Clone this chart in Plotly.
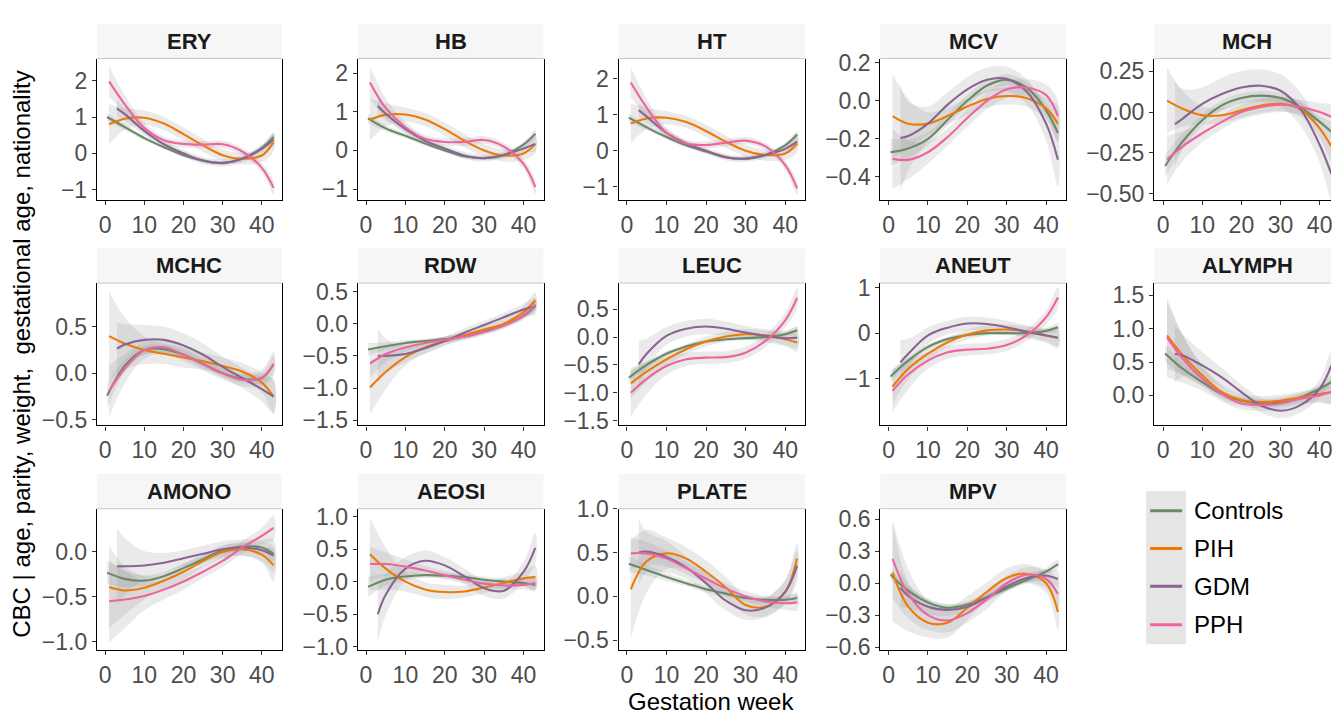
import plotly.graph_objects as go

# ---------------- data ----------------
PANELS = ["ERY", "HB", "HT", "MCV", "MCH",
          "MCHC", "RDW", "LEUC", "ANEUT", "ALYMPH",
          "AMONO", "AEOSI", "PLATE", "MPV"]
GROUPS = ["Controls", "PIH", "GDM", "PPH"]
GROUP_START = {"Controls": 0.5, "PIH": 1, "GDM": 3, "PPH": 1}
WEEKS = [5, 10, 15, 20, 25, 30, 35, 40, 43]
X_TICKS = [0, 10, 20, 30, 40]
X_TICK_LABELS = ["0", "10", "20", "30", "40"]

# fitted smooth at [start] + WEEKS
ERY_FIT = {
    "Controls": [1.0, 0.72, 0.42, 0.17, -0.05, -0.2, -0.27, -0.15, 0.15, 0.45],
    "PIH": [0.8, 0.95, 0.98, 0.82, 0.53, 0.22, -0.05, -0.15, -0.06, 0.31],
    "GDM": [1.24, 1.08, 0.62, 0.25, 0.0, -0.2, -0.26, -0.15, 0.12, 0.38],
    "PPH": [1.98, 1.35, 0.7, 0.36, 0.26, 0.24, 0.25, 0.05, -0.4, -0.95],
}
HB_FIT = {
    "Controls": [0.83, 0.57, 0.38, 0.18, 0.0, -0.15, -0.2, -0.12, 0.15, 0.43],
    "PIH": [0.8, 0.92, 0.93, 0.8, 0.55, 0.25, 0.0, -0.13, -0.08, 0.17],
    "GDM": [1.15, 0.95, 0.55, 0.25, 0.05, -0.13, -0.2, -0.12, 0.05, 0.17],
    "PPH": [1.76, 1.1, 0.6, 0.3, 0.22, 0.22, 0.27, 0.1, -0.35, -0.95],
}
HT_FIT = {
    "Controls": [0.92, 0.65, 0.38, 0.15, -0.02, -0.18, -0.22, -0.12, 0.15, 0.45],
    "PIH": [0.76, 0.9, 0.92, 0.8, 0.55, 0.25, 0.0, -0.12, -0.08, 0.2],
    "GDM": [1.13, 0.95, 0.5, 0.2, 0.0, -0.18, -0.22, -0.12, 0.05, 0.25],
    "PPH": [1.9, 1.2, 0.5, 0.2, 0.16, 0.22, 0.28, 0.12, -0.4, -1.05],
}
MCV_FIT = {
    "Controls": [-0.27, -0.25, -0.2, -0.1, 0.0, 0.08, 0.11, 0.07, -0.05, -0.17],
    "PIH": [-0.08, -0.12, -0.12, -0.08, -0.03, 0.01, 0.025, 0.015, -0.04, -0.12],
    "GDM": [-0.195, -0.185, -0.12, -0.02, 0.06, 0.11, 0.115, 0.05, -0.12, -0.31],
    "PPH": [-0.305, -0.31, -0.27, -0.19, -0.09, 0.0, 0.06, 0.07, 0.03, -0.08],
}
MCH_FIT = {
    "Controls": [-0.33, -0.18, -0.05, 0.04, 0.085, 0.1, 0.085, 0.03, -0.06, -0.12],
    "PIH": [0.07, 0.02, -0.02, -0.02, 0.01, 0.04, 0.05, 0.02, -0.1, -0.21],
    "GDM": [-0.075, -0.04, 0.05, 0.11, 0.15, 0.16, 0.13, 0.02, -0.2, -0.38],
    "PPH": [-0.29, -0.21, -0.13, -0.06, 0.0, 0.03, 0.045, 0.03, 0.0, -0.03],
}
MCHC_FIT = {
    "Controls": [-0.24, 0.08, 0.25, 0.26, 0.2, 0.1, 0.0, -0.06, -0.05, 0.1],
    "PIH": [0.4, 0.32, 0.25, 0.21, 0.17, 0.13, 0.08, 0.02, -0.1, -0.25],
    "GDM": [0.265, 0.31, 0.36, 0.36, 0.3, 0.2, 0.07, -0.05, -0.17, -0.25],
    "PPH": [-0.19, 0.05, 0.25, 0.28, 0.2, 0.1, 0.0, -0.07, -0.05, 0.1],
}
RDW_FIT = {
    "Controls": [-0.4, -0.35, -0.3, -0.27, -0.24, -0.2, -0.12, -0.02, 0.12, 0.28],
    "PIH": [-0.99, -0.75, -0.52, -0.37, -0.27, -0.18, -0.09, 0.0, 0.18, 0.36],
    "GDM": [-0.5, -0.5, -0.47, -0.38, -0.27, -0.14, -0.02, 0.1, 0.22, 0.27],
    "PPH": [-0.62, -0.47, -0.37, -0.3, -0.25, -0.2, -0.13, -0.03, 0.13, 0.3],
}
LEUC_FIT = {
    "Controls": [-0.73, -0.5, -0.3, -0.17, -0.08, -0.04, -0.02, 0.0, 0.05, 0.12],
    "PIH": [-0.83, -0.62, -0.4, -0.22, -0.08, 0.01, 0.05, 0.03, -0.04, -0.1],
    "GDM": [-0.49, -0.3, 0.02, 0.15, 0.19, 0.15, 0.08, 0.02, -0.02, -0.01],
    "PPH": [-1.0, -0.75, -0.52, -0.4, -0.37, -0.36, -0.28, -0.07, 0.3, 0.7],
}
ANEUT_FIT = {
    "Controls": [-0.95, -0.6, -0.3, -0.13, -0.04, 0.0, 0.0, 0.0, 0.05, 0.13],
    "PIH": [-1.17, -0.78, -0.45, -0.2, -0.03, 0.06, 0.08, 0.04, -0.05, -0.1],
    "GDM": [-0.64, -0.45, -0.05, 0.12, 0.21, 0.2, 0.13, 0.03, -0.05, -0.1],
    "PPH": [-1.26, -0.9, -0.6, -0.42, -0.36, -0.34, -0.26, -0.05, 0.35, 0.78],
}
ALYMPH_FIT = {
    "Controls": [0.63, 0.4, 0.2, 0.02, -0.08, -0.12, -0.1, -0.03, 0.1, 0.2],
    "PIH": [0.9, 0.6, 0.3, 0.05, -0.07, -0.1, -0.08, -0.03, 0.02, 0.05],
    "GDM": [0.62, 0.6, 0.45, 0.27, 0.05, -0.15, -0.23, -0.15, 0.1, 0.45],
    "PPH": [0.87, 0.55, 0.25, 0.02, -0.12, -0.14, -0.12, -0.05, 0.0, 0.05],
}
AMONO_FIT = {
    "Controls": [-0.23, -0.3, -0.32, -0.27, -0.18, -0.08, 0.02, 0.06, 0.05, -0.02],
    "PIH": [-0.39, -0.43, -0.4, -0.32, -0.22, -0.1, 0.0, 0.03, -0.03, -0.15],
    "GDM": [-0.16, -0.16, -0.15, -0.12, -0.07, -0.02, 0.03, 0.05, 0.02, -0.04],
    "PPH": [-0.55, -0.53, -0.49, -0.42, -0.33, -0.22, -0.1, 0.05, 0.18, 0.27],
}
AEOSI_FIT = {
    "Controls": [-0.08, 0.03, 0.08, 0.1, 0.09, 0.07, 0.03, 0.0, -0.02, -0.05],
    "PIH": [0.42, 0.2, 0.0, -0.12, -0.16, -0.15, -0.09, -0.02, 0.05, 0.07],
    "GDM": [-0.5, -0.2, 0.2, 0.32, 0.25, 0.08, -0.1, -0.14, 0.15, 0.52],
    "PPH": [0.27, 0.27, 0.23, 0.17, 0.1, 0.03, -0.03, -0.06, -0.05, -0.02],
}
PLATE_FIT = {
    "Controls": [0.37, 0.3, 0.22, 0.15, 0.08, 0.03, -0.02, -0.04, -0.04, -0.02],
    "PIH": [0.08, 0.4, 0.49, 0.43, 0.28, 0.1, -0.1, -0.12, 0.05, 0.43],
    "GDM": [0.5, 0.51, 0.45, 0.33, 0.15, -0.05, -0.16, -0.13, 0.05, 0.35],
    "PPH": [0.49, 0.49, 0.43, 0.32, 0.2, 0.09, 0.0, -0.06, -0.08, -0.07],
}
MPV_FIT = {
    "Controls": [0.08, -0.07, -0.18, -0.23, -0.2, -0.13, -0.05, 0.03, 0.11, 0.18],
    "PIH": [0.1, -0.22, -0.37, -0.37, -0.23, -0.08, 0.05, 0.09, 0.0, -0.27],
    "GDM": [-0.04, -0.12, -0.22, -0.25, -0.22, -0.13, -0.03, 0.05, 0.07, 0.04],
    "PPH": [0.23, -0.1, -0.3, -0.35, -0.28, -0.15, 0.0, 0.08, 0.04, -0.1],
}

# confidence band half-widths at the same weeks
ERY_SE = {
    "Controls": [0.12, 0.08, 0.06, 0.05, 0.05, 0.05, 0.05, 0.05, 0.07, 0.1],
    "PIH": [0.55, 0.3, 0.2, 0.18, 0.18, 0.18, 0.16, 0.16, 0.18, 0.25],
    "GDM": [0.25, 0.18, 0.12, 0.1, 0.1, 0.1, 0.1, 0.1, 0.12, 0.17],
    "PPH": [0.42, 0.25, 0.14, 0.1, 0.1, 0.1, 0.1, 0.1, 0.13, 0.17],
}
HB_SE = {
    "Controls": [0.12, 0.08, 0.06, 0.05, 0.05, 0.05, 0.05, 0.05, 0.07, 0.1],
    "PIH": [0.55, 0.3, 0.18, 0.17, 0.17, 0.17, 0.16, 0.16, 0.17, 0.24],
    "GDM": [0.22, 0.17, 0.11, 0.09, 0.09, 0.09, 0.09, 0.09, 0.11, 0.17],
    "PPH": [0.42, 0.25, 0.14, 0.1, 0.1, 0.1, 0.1, 0.1, 0.13, 0.17],
}
HT_SE = {
    "Controls": [0.12, 0.08, 0.06, 0.05, 0.05, 0.05, 0.05, 0.05, 0.07, 0.1],
    "PIH": [0.55, 0.3, 0.18, 0.17, 0.17, 0.17, 0.16, 0.16, 0.17, 0.24],
    "GDM": [0.22, 0.17, 0.11, 0.09, 0.09, 0.09, 0.09, 0.09, 0.11, 0.17],
    "PPH": [0.42, 0.25, 0.14, 0.1, 0.1, 0.1, 0.1, 0.1, 0.13, 0.17],
}
MCV_SE = {
    "Controls": [0.07, 0.05, 0.035, 0.03, 0.03, 0.03, 0.03, 0.03, 0.035, 0.05],
    "PIH": [0.22, 0.13, 0.06, 0.045, 0.045, 0.045, 0.045, 0.045, 0.055, 0.09],
    "GDM": [0.28, 0.18, 0.09, 0.065, 0.065, 0.065, 0.065, 0.065, 0.09, 0.14],
    "PPH": [0.16, 0.1, 0.06, 0.045, 0.045, 0.045, 0.045, 0.045, 0.055, 0.08],
}
MCH_SE = {
    "Controls": [0.07, 0.05, 0.035, 0.03, 0.03, 0.03, 0.03, 0.03, 0.035, 0.05],
    "PIH": [0.2, 0.11, 0.055, 0.045, 0.045, 0.045, 0.045, 0.045, 0.055, 0.09],
    "GDM": [0.26, 0.18, 0.1, 0.1, 0.1, 0.1, 0.1, 0.1, 0.11, 0.16],
    "PPH": [0.15, 0.09, 0.055, 0.045, 0.045, 0.045, 0.045, 0.045, 0.055, 0.07],
}
MCHC_SE = {
    "Controls": [0.13, 0.07, 0.045, 0.045, 0.045, 0.045, 0.045, 0.045, 0.055, 0.09],
    "PIH": [0.48, 0.28, 0.15, 0.11, 0.11, 0.09, 0.09, 0.09, 0.11, 0.18],
    "GDM": [0.28, 0.22, 0.16, 0.14, 0.13, 0.12, 0.11, 0.11, 0.13, 0.18],
    "PPH": [0.28, 0.16, 0.09, 0.07, 0.07, 0.07, 0.07, 0.07, 0.09, 0.13],
}
RDW_SE = {
    "Controls": [0.1, 0.06, 0.045, 0.035, 0.035, 0.035, 0.035, 0.035, 0.045, 0.06],
    "PIH": [0.42, 0.27, 0.13, 0.09, 0.07, 0.07, 0.07, 0.07, 0.09, 0.13],
    "GDM": [0.42, 0.27, 0.13, 0.09, 0.07, 0.07, 0.07, 0.07, 0.09, 0.13],
    "PPH": [0.22, 0.13, 0.07, 0.05, 0.05, 0.05, 0.05, 0.05, 0.07, 0.1],
}
LEUC_SE = {
    "Controls": [0.09, 0.06, 0.045, 0.035, 0.035, 0.035, 0.035, 0.035, 0.045, 0.07],
    "PIH": [0.28, 0.18, 0.11, 0.09, 0.09, 0.09, 0.09, 0.09, 0.11, 0.16],
    "GDM": [0.42, 0.27, 0.16, 0.14, 0.14, 0.13, 0.12, 0.12, 0.14, 0.18],
    "PPH": [0.42, 0.27, 0.16, 0.12, 0.11, 0.11, 0.11, 0.11, 0.13, 0.18],
}
ANEUT_SE = {
    "Controls": [0.11, 0.07, 0.055, 0.045, 0.045, 0.045, 0.045, 0.045, 0.055, 0.09],
    "PIH": [0.37, 0.23, 0.14, 0.11, 0.11, 0.11, 0.11, 0.11, 0.13, 0.18],
    "GDM": [0.5, 0.32, 0.18, 0.15, 0.15, 0.14, 0.14, 0.14, 0.16, 0.23],
    "PPH": [0.47, 0.32, 0.18, 0.14, 0.13, 0.13, 0.13, 0.13, 0.15, 0.23],
}
ALYMPH_SE = {
    "Controls": [0.13, 0.09, 0.06, 0.05, 0.05, 0.05, 0.05, 0.05, 0.06, 0.09],
    "PIH": [0.5, 0.3, 0.16, 0.11, 0.09, 0.09, 0.09, 0.09, 0.11, 0.16],
    "GDM": [0.42, 0.32, 0.2, 0.14, 0.11, 0.11, 0.11, 0.11, 0.14, 0.22],
    "PPH": [0.6, 0.36, 0.18, 0.11, 0.09, 0.09, 0.09, 0.09, 0.11, 0.18],
}
AMONO_SE = {
    "Controls": [0.13, 0.09, 0.06, 0.05, 0.05, 0.05, 0.05, 0.05, 0.06, 0.09],
    "PIH": [0.46, 0.27, 0.13, 0.09, 0.09, 0.07, 0.07, 0.07, 0.09, 0.18],
    "GDM": [0.42, 0.32, 0.16, 0.11, 0.09, 0.09, 0.09, 0.09, 0.12, 0.18],
    "PPH": [0.46, 0.32, 0.16, 0.11, 0.09, 0.07, 0.07, 0.07, 0.09, 0.13],
}
AEOSI_SE = {
    "Controls": [0.16, 0.09, 0.06, 0.045, 0.045, 0.045, 0.045, 0.045, 0.055, 0.09],
    "PIH": [0.56, 0.32, 0.15, 0.11, 0.11, 0.09, 0.09, 0.09, 0.11, 0.18],
    "GDM": [0.42, 0.32, 0.18, 0.16, 0.13, 0.12, 0.12, 0.12, 0.15, 0.23],
    "PPH": [0.27, 0.18, 0.11, 0.07, 0.06, 0.06, 0.06, 0.06, 0.07, 0.11],
}
PLATE_SE = {
    "Controls": [0.09, 0.06, 0.045, 0.035, 0.035, 0.035, 0.035, 0.035, 0.045, 0.06],
    "PIH": [0.56, 0.36, 0.18, 0.13, 0.13, 0.12, 0.11, 0.11, 0.13, 0.18],
    "GDM": [0.38, 0.23, 0.18, 0.13, 0.12, 0.11, 0.11, 0.11, 0.13, 0.18],
    "PPH": [0.18, 0.13, 0.09, 0.07, 0.06, 0.06, 0.06, 0.06, 0.07, 0.09],
}
MPV_SE = {
    "Controls": [0.05, 0.045, 0.035, 0.03, 0.03, 0.03, 0.03, 0.03, 0.035, 0.045],
    "PIH": [0.46, 0.23, 0.14, 0.14, 0.11, 0.09, 0.09, 0.09, 0.09, 0.16],
    "GDM": [0.18, 0.11, 0.07, 0.055, 0.045, 0.045, 0.045, 0.045, 0.055, 0.07],
    "PPH": [0.37, 0.23, 0.14, 0.11, 0.09, 0.09, 0.07, 0.07, 0.09, 0.13],
}

Y_TICKS = {
    "ERY": [-1, 0, 1, 2], "HB": [-1, 0, 1, 2], "HT": [-1, 0, 1, 2],
    "MCV": [-0.4, -0.2, 0.0, 0.2], "MCH": [-0.5, -0.25, 0.0, 0.25],
    "MCHC": [-0.5, 0.0, 0.5], "RDW": [-1.5, -1.0, -0.5, 0.0, 0.5],
    "LEUC": [-1.5, -1.0, -0.5, 0.0, 0.5], "ANEUT": [-1, 0, 1],
    "ALYMPH": [0.0, 0.5, 1.0, 1.5], "AMONO": [-1.0, -0.5, 0.0],
    "AEOSI": [-1.0, -0.5, 0.0, 0.5, 1.0], "PLATE": [-0.5, 0.0, 0.5, 1.0],
    "MPV": [-0.6, -0.3, 0.0, 0.3, 0.6],
}
Y_TICK_LABELS = {
    "ERY": ["\u22121", "0", "1", "2"], "HB": ["\u22121", "0", "1", "2"],
    "HT": ["\u22121", "0", "1", "2"],
    "MCV": ["\u22120.4", "\u22120.2", "0.0", "0.2"],
    "MCH": ["\u22120.50", "\u22120.25", "0.00", "0.25"],
    "MCHC": ["\u22120.5", "0.0", "0.5"],
    "RDW": ["\u22121.5", "\u22121.0", "\u22120.5", "0.0", "0.5"],
    "LEUC": ["\u22121.5", "\u22121.0", "\u22120.5", "0.0", "0.5"],
    "ANEUT": ["\u22121", "0", "1"],
    "ALYMPH": ["0.0", "0.5", "1.0", "1.5"],
    "AMONO": ["\u22121.0", "\u22120.5", "0.0"],
    "AEOSI": ["\u22121.0", "\u22120.5", "0.0", "0.5", "1.0"],
    "PLATE": ["\u22120.5", "0.0", "0.5", "1.0"],
    "MPV": ["\u22120.6", "\u22120.3", "0.0", "0.3", "0.6"],
}

FITS = {"ERY": ERY_FIT, "HB": HB_FIT, "HT": HT_FIT, "MCV": MCV_FIT, "MCH": MCH_FIT,
        "MCHC": MCHC_FIT, "RDW": RDW_FIT, "LEUC": LEUC_FIT, "ANEUT": ANEUT_FIT,
        "ALYMPH": ALYMPH_FIT, "AMONO": AMONO_FIT, "AEOSI": AEOSI_FIT,
        "PLATE": PLATE_FIT, "MPV": MPV_FIT}
SES = {"ERY": ERY_SE, "HB": HB_SE, "HT": HT_SE, "MCV": MCV_SE, "MCH": MCH_SE,
       "MCHC": MCHC_SE, "RDW": RDW_SE, "LEUC": LEUC_SE, "ANEUT": ANEUT_SE,
       "ALYMPH": ALYMPH_SE, "AMONO": AMONO_SE, "AEOSI": AEOSI_SE,
       "PLATE": PLATE_SE, "MPV": MPV_SE}

# ---------------- style / layout ----------------
COLORS = {"Controls": "#6A8A66", "PIH": "#EE7A05", "GDM": "#8A6592", "PPH": "#EF63A0"}
BAND = "rgba(150,150,150,0.2)"
FONT = "Liberation Sans, Arial, sans-serif"
W, H = 1332, 722
COL_X = [(97, 282), (358, 544), (619, 806), (881, 1067), (1155, 1332)]
ROW_Y = [(47, 193), (279, 426), (512, 658)]
STRIP_H = 36
Y_RANGE = {
    "ERY": [-1.28, 2.61], "HB": [-1.28, 2.38], "HT": [-1.37, 2.57],
    "MCV": [-0.52, 0.222], "MCH": [-0.537, 0.327], "MCHC": [-0.56, 0.97],
    "RDW": [-1.58, 0.63], "LEUC": [-1.585, 0.967], "ANEUT": [-2.02, 1.095],
    "ALYMPH": [-0.45, 1.684], "AMONO": [-1.094, 0.483], "AEOSI": [-1.05, 1.12],
    "PLATE": [-0.614, 1.0], "MPV": [-0.627, 0.70],
}
X_RANGE = [-2.1, 45.1]
X_RANGE_CUT = [-2.3, 42.9]

fig = go.Figure()
layout = {}
shapes = []
annotations = []

for i, name in enumerate(PANELS):
    r, c = divmod(i, 5)
    k = i + 1
    xa, ya = f"x{k}", f"y{k}"
    fit, se = FITS[name], SES[name]
    for g in GROUPS:
        xs = [GROUP_START[g]] + WEEKS
        up = [m + s for m, s in zip(fit[g], se[g])]
        lo = [m - s for m, s in zip(fit[g], se[g])]
        fig.add_trace(go.Scatter(
            x=xs + xs[::-1], y=up + lo[::-1], fill="toself", fillcolor=BAND,
            mode="lines", line=dict(width=0, shape="spline", smoothing=1.0),
            hoverinfo="skip", showlegend=False, xaxis=xa, yaxis=ya))
    for g in GROUPS:
        xs = [GROUP_START[g]] + WEEKS
        fig.add_trace(go.Scatter(
            x=xs, y=fit[g], mode="lines", name=g,
            line=dict(color=COLORS[g], width=2.1, shape="spline", smoothing=1.0),
            showlegend=False, xaxis=xa, yaxis=ya))

    x0, x1 = COL_X[c]
    y0, y1 = ROW_Y[r]
    cut = (c == 4)
    axis_common = dict(showgrid=False, zeroline=False, showline=True,
                       linecolor="black", linewidth=1.3, ticks="outside",
                       ticklen=4, tickwidth=1.1, tickcolor="#333333",
                       ticklabeloverflow="allow",
                       tickfont=dict(size=23, color="#4D4D4D", family=FONT))
    layout[f"xaxis{k}"] = dict(domain=[x0 / W, x1 / W], anchor=ya,
                               range=X_RANGE_CUT if cut else X_RANGE,
                               tickvals=X_TICKS, ticktext=X_TICK_LABELS,
                               **axis_common)
    layout[f"yaxis{k}"] = dict(domain=[1 - y1 / H, 1 - y0 / H], anchor=xa,
                               range=Y_RANGE[name], tickvals=Y_TICKS[name],
                               ticktext=Y_TICK_LABELS[name],
                               mirror=not cut, **axis_common)
    sx1 = 1341 if cut else x1
    shapes.append(dict(type="rect", xref="paper", yref="paper",
                       x0=x0 / W, x1=min(sx1, W) / W,
                       y0=1 - y0 / H, y1=1 - (y0 - STRIP_H) / H,
                       fillcolor="#F6F6F6", line=dict(width=0), layer="below"))
    shapes.append(dict(type="line", xref="paper", yref="paper",
                       x0=x0 / W, x1=min(sx1, W) / W,
                       y0=1 - y0 / H, y1=1 - y0 / H,
                       line=dict(color="#C8C8C8", width=1)))
    annotations.append(dict(text=f"<b>{name}</b>", xref="paper", yref="paper",
                            x=(x0 + sx1) / 2 / W, y=1 - (y0 - STRIP_H / 2) / H,
                            xanchor="center", yanchor="middle", showarrow=False,
                            font=dict(size=22, color="#1A1A1A", family=FONT)))

# legend (drawn manually to mimic ggplot keys)
LEG_Y = [514, 553, 592, 632]
shapes.append(dict(type="rect", xref="paper", yref="paper",
                   x0=1147 / W, x1=1187 / W, y0=1 - 652 / H, y1=1 - 494 / H,
                   fillcolor="#E5E5E5", line=dict(width=0)))
for g, yy in zip(GROUPS, LEG_Y):
    shapes.append(dict(type="line", xref="paper", yref="paper",
                       x0=1151 / W, x1=1183 / W, y0=1 - yy / H, y1=1 - yy / H,
                       line=dict(color=COLORS[g], width=3)))
    annotations.append(dict(text=g, xref="paper", yref="paper", x=1193 / W,
                            y=1 - yy / H, xanchor="left", yanchor="middle",
                            showarrow=False,
                            font=dict(size=24, color="black", family=FONT)))

annotations.append(dict(text="Gestation week", xref="paper", yref="paper",
                        x=712 / W, y=1 - 711 / H, xanchor="center", yanchor="middle",
                        showarrow=False, font=dict(size=24, color="black", family=FONT)))
annotations.append(dict(text="CBC | age, parity, weight,\u00a0 gestational age, nationality",
                        xref="paper", yref="paper", x=22 / W, y=1 - 352 / H,
                        xanchor="center", yanchor="middle", textangle=-90,
                        showarrow=False, font=dict(size=24, color="black", family=FONT)))

fig.update_layout(width=W, height=H, margin=dict(l=0, r=0, t=0, b=0),
                  paper_bgcolor="white", plot_bgcolor="white",
                  showlegend=False, shapes=shapes, annotations=annotations,
                  font=dict(family=FONT), **layout)

fig.write_html("out.html", config={"displayModeBar": False},
               post_script="document.body.style.margin='0';document.body.style.overflow='hidden';")
